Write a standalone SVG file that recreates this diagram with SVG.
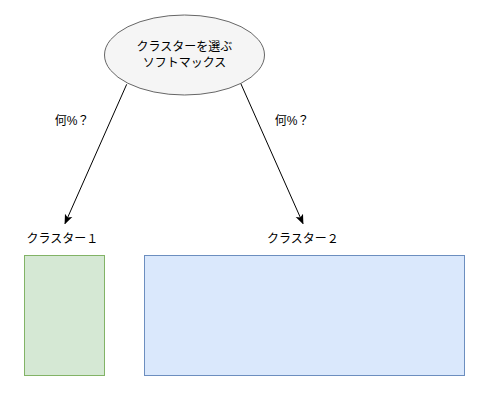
<svg xmlns="http://www.w3.org/2000/svg" width="487" height="407" viewBox="0 0 487 407">
<style>
text{font-family:"Liberation Sans","Noto Sans CJK JP",sans-serif;font-size:12px;fill:#000;text-anchor:middle}
.edge{stroke:#000;stroke-width:1;fill:none}
</style>
<defs>
<marker id="arr" viewBox="0 0 10 10" refX="9" refY="5" markerWidth="10" markerHeight="10" markerUnits="userSpaceOnUse" orient="auto">
<path d="M0,1 L10,5 L0,9 L2.5,5 z" fill="#000"/>
</marker>
</defs>
<rect width="487" height="407" fill="#fff"/>
<g id="edges">
<line class="edge" x1="126.7" y1="84.3" x2="65" y2="223.5" marker-end="url(#arr)"/>
<line class="edge" x1="240.7" y1="83.3" x2="303" y2="223.5" marker-end="url(#arr)"/>
<text x="72" y="125">何%？</text>
<text x="292" y="125">何%？</text>
</g>
<g id="softmax">
<ellipse cx="184.5" cy="55" rx="80" ry="40" fill="#f5f5f5" stroke="#666"/>
<text x="184.5" y="51">クラスターを選ぶ</text>
<text x="184.5" y="67">ソフトマックス</text>
</g>
<g id="label1"><text x="62.5" y="243">クラスター１</text></g>
<g id="label2"><text x="303" y="243">クラスター２</text></g>
<g id="cluster1"><rect x="24.5" y="255.5" width="80" height="120" fill="#d5e8d4" stroke="#82b366"/></g>
<g id="cluster2"><rect x="144.5" y="255.5" width="320" height="120" fill="#dae8fc" stroke="#6c8ebf"/></g>
</svg>
